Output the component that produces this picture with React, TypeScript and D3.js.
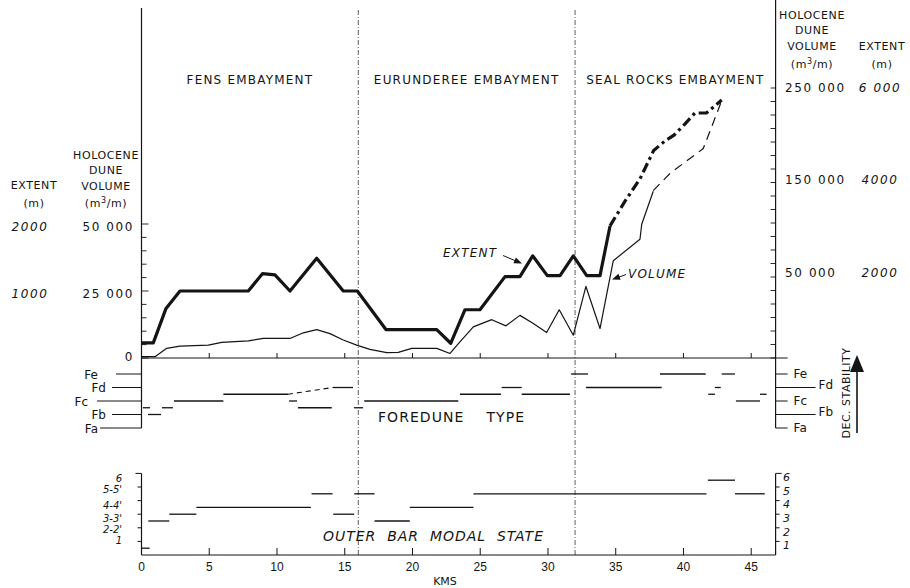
import React from "react";
import * as d3 from "d3";

// ---- distance axis (km along the coast) ----
const kmTicks = [0, 5, 10, 15, 20, 25, 30, 35, 40, 45];
const sectionBreaks = [0, 16, 32, 46.8];
const embayments = ["FENS EMBAYMENT", "EURUNDEREE EMBAYMENT", "SEAL ROCKS EMBAYMENT"];

// ---- dune extent (m), plotted on the left scale ----
const extentLower: [number, number][] = [
  [0, 225], [0.87, 225], [1.81, 740], [2.84, 1000], [7.88, 1000], [8.94, 1260],
  [9.85, 1240], [10.96, 1000], [12.93, 1490], [14.89, 1000], [15.93, 1000],
  [18.04, 425], [21.79, 425], [22.82, 220], [23.87, 720], [24.98, 720],
  [26.83, 1215], [27.93, 1215], [28.87, 1525], [29.95, 1230], [30.89, 1230],
  [31.87, 1525], [32.86, 1230], [33.84, 1230], [34.58, 1970],
];
// ---- dune extent (m), plotted on the right scale ----
const extentUpper: [number, number][] = [
  [34.58, 3020], [35.7, 3560], [36.8, 4040], [37.8, 4650], [38.7, 4870],
  [39.3, 4980], [40.1, 5220], [40.85, 5460], [41.7, 5460], [42.82, 5740],
];

// ---- Holocene dune volume (m3/m), left scale ----
const volumeLower: [number, number][] = [
  [0, 500], [1.0, 500], [1.86, 3600], [2.84, 4400], [4.93, 4800], [5.92, 5800],
  [7.88, 6400], [8.99, 7300], [10.96, 7300], [11.94, 9400], [12.93, 10600],
  [13.91, 9100], [14.89, 6700], [15.88, 4800], [16.86, 3200], [18.1, 2000],
  [18.95, 2100], [19.94, 3600], [21.79, 3600], [22.77, 1700], [23.5, 6000],
  [24.49, 11600], [25.85, 14300], [26.9, 12000], [27.93, 15900], [28.92, 12900],
  [29.9, 9500], [30.83, 18000], [31.87, 8500], [32.8, 26700], [33.84, 11000],
  [34.82, 36300], [36.79, 44300], [36.92, 49900], [37.77, 62200],
];
// ---- Holocene dune volume (m3/m), right scale ----
const volumeUpper: [number, number][] = [
  [37.77, 139100], [39.0, 157600], [39.99, 168500], [41.46, 184500],
  [42.08, 208000], [42.82, 236200],
];

// ---- foredune type: [from km, to km, class 1=Fa .. 5=Fe] ----
const foreduneClasses = ["Fa", "Fb", "Fc", "Fd", "Fe"];
const foreduneRuns: [number, number, number][] = [
  [0.1, 0.63, 2.5], [0.48, 1.44, 2], [1.51, 2.32, 2.5], [2.4, 6.04, 3],
  [6.04, 10.81, 3.5], [14.13, 15.61, 4], [10.89, 11.48, 3], [11.55, 14.04, 2.5],
  [15.68, 16.35, 2.5], [16.44, 23.38, 3], [23.5, 26.53, 3.5], [26.58, 28.06, 4],
  [28.06, 31.62, 3.5], [31.7, 32.95, 5], [32.8, 38.39, 4], [38.27, 41.64, 5],
  [41.83, 42.32, 3.5], [42.32, 42.75, 4], [42.82, 43.8, 5], [43.87, 45.65, 3],
  [45.65, 46.14, 3.5],
];
// inferred transition (dashed)
const foreduneInferred: [number, number][] = [[10.81, 3.5], [14.13, 4]];

// ---- outer bar modal state: [from km, to km, state position] ----
const barStateLabels = ["1", "2-2'", "3-3'", "4-4'", "5-5'", "6"];
const barStateRightLabels = ["1", "2", "3", "4", "5", "6"];
const barRuns: [number, number, number][] = [
  [0, 0.6, 0.5], [0.5, 2.05, 2.5], [2.05, 4.05, 3], [4.05, 12.5, 3.5],
  [12.55, 14.1, 4.5], [14.15, 15.7, 3], [15.7, 17.2, 4.5], [17.2, 19.8, 2.5],
  [19.8, 24.5, 3.5], [24.5, 41.7, 4.5], [41.8, 43.8, 5.5], [43.8, 46.0, 4.5],
];

const INK = "#141414";
const FONT = "'DejaVu Sans', 'Liberation Sans', sans-serif";

export default function App() {
  const x = d3.scaleLinear().domain([0, 46.8]).range([141.5, 775.6]);
  const yVolL = d3.scaleLinear().domain([0, 50000]).range([358, 224]);
  const yExtL = d3.scaleLinear().domain([0, 2000]).range([358, 224]);
  const yVolR = d3.scaleLinear().domain([50000, 250000]).range([273, 88]);
  const yExtR = d3.scaleLinear().domain([2000, 6000]).range([273, 88]);
  const yGrid = d3.scaleLinear().domain([0, 100000]).range([358, 88]);
  const yFore = d3.scaleLinear().domain([1, 5]).range([428, 374]);
  const yBar = d3.scaleLinear().domain([0, 6]).range([555, 473.4]);

  const xL = x(0);
  const xR = x(46.8);

  const lineOn = (ys: d3.ScaleLinear<number, number>) =>
    d3.line<[number, number]>().x((d) => x(d[0])).y((d) => ys(d[1]));

  const arrowHead = (x1: number, y1: number, x2: number, y2: number, len = 8, half = 3.2) => {
    const a = Math.atan2(y2 - y1, x2 - x1);
    const bx = x2 - len * Math.cos(a);
    const by = y2 - len * Math.sin(a);
    const px = -Math.sin(a) * half;
    const py = Math.cos(a) * half;
    return `M${x2},${y2}L${bx + px},${by + py}L${bx - px},${by - py}Z`;
  };

  const leftMinor = yVolL.ticks(10);
  const rightMinor = yGrid.ticks(20);

  return (
    <svg
      width={910}
      height={588}
      viewBox="0 0 910 588"
      style={{ position: "absolute", left: 0, top: 0, background: "#fff" }}
      fontFamily={FONT}
    >
      <rect x={0} y={0} width={910} height={588} fill="#fff" />

      {/* section dividers */}
      {[16, 32].map((k) => (
        <line key={k} x1={x(k)} x2={x(k)} y1={10} y2={555} stroke="#333" strokeWidth={0.8} strokeDasharray="5 2 1 2" />
      ))}

      {/* embayment names */}
      {embayments.map((name, i) => (
        <text
          key={name}
          x={(x(sectionBreaks[i]) + x(sectionBreaks[i + 1])) / 2}
          y={80}
          textAnchor="middle"
          dominantBaseline="middle"
          fontSize={12}
          letterSpacing={1.2}
          fill={INK}
        >
          {name}
        </text>
      ))}

      {/* ===== top panel: axes ===== */}
      <line x1={xL} x2={xL} y1={8} y2={428} stroke={INK} strokeWidth={1.2} />
      <line x1={xR} x2={xR} y1={0} y2={428} stroke={INK} strokeWidth={1.2} />
      <line x1={xL} x2={xR + 12} y1={yVolL(0)} y2={yVolL(0)} stroke={INK} strokeWidth={1} />
      {kmTicks.map((k) => (
        <line key={k} x1={x(k)} x2={x(k)} y1={yVolL(0)} y2={yVolL(0) - 5} stroke={INK} strokeWidth={1} />
      ))}
      {leftMinor.map((v) => (
        <line key={v} x1={xL} x2={xL + (v % 25000 === 0 ? 7 : 5)} y1={yVolL(v)} y2={yVolL(v)} stroke={INK} strokeWidth={0.9} />
      ))}
      {rightMinor.map((v) => (
        <line key={v} x1={xR} x2={xR - 5} y1={yGrid(v)} y2={yGrid(v)} stroke={INK} strokeWidth={0.9} />
      ))}

      {/* left axis headings */}
      <g fontSize={11} fill={INK} textAnchor="middle" letterSpacing={0.6}>
        <text x={106} y={159}>HOLOCENE</text>
        <text x={106} y={174}>DUNE</text>
        <text x={106} y={190}>VOLUME</text>
        <text x={106} y={207}>
          (m<tspan dy={-4} fontSize={8}>3</tspan>
          <tspan dy={4}>/m)</tspan>
        </text>
        <text x={34} y={189}>EXTENT</text>
        <text x={34} y={207}>(m)</text>
      </g>
      <g fontSize={12} fill={INK} letterSpacing={1.6} dominantBaseline="middle">
        {[50000, 25000, 0].map((v) => (
          <text key={v} x={134} y={yVolL(v) + (v === 0 ? -1 : 3)} textAnchor="end">
            {v === 0 ? "0" : d3.format(",")(v).replace(",", " ")}
          </text>
        ))}
        {[2000, 1000].map((v) => (
          <text key={v} x={30} y={yExtL(v) + 3} textAnchor="middle" fontStyle="italic">
            {String(v)}
          </text>
        ))}
      </g>

      {/* right axis headings */}
      <g fontSize={11} fill={INK} textAnchor="middle" letterSpacing={0.6}>
        <text x={812} y={19}>HOLOCENE</text>
        <text x={812} y={34}>DUNE</text>
        <text x={812} y={50}>VOLUME</text>
        <text x={812} y={68}>
          (m<tspan dy={-4} fontSize={8}>3</tspan>
          <tspan dy={4}>/m)</tspan>
        </text>
        <text x={882} y={50}>EXTENT</text>
        <text x={882} y={68}>(m)</text>
      </g>
      <g fontSize={12} fill={INK} letterSpacing={1.6} dominantBaseline="middle">
        {[250000, 150000, 50000].map((v) => (
          <text key={v} x={785} y={yVolR(v)} textAnchor="start">
            {d3.format(",")(v).replace(",", " ")}
          </text>
        ))}
        {[6000, 4000, 2000].map((v) => (
          <text key={v} x={880} y={yExtR(v)} textAnchor="middle" fontStyle="italic">
            {v === 6000 ? "6 000" : String(v)}
          </text>
        ))}
      </g>

      {/* ===== top panel: series ===== */}
      <path d={lineOn(yVolL)(volumeLower)!} fill="none" stroke={INK} strokeWidth={1.2} strokeLinejoin="round" />
      <path d={lineOn(yVolR)(volumeUpper)!} fill="none" stroke={INK} strokeWidth={1.2} strokeDasharray="9 6" />
      <path d={lineOn(yExtL)(extentLower)!} fill="none" stroke={INK} strokeWidth={3.2} strokeLinejoin="round" />
      <path d={lineOn(yExtR)(extentUpper)!} fill="none" stroke={INK} strokeWidth={3.2} strokeDasharray="10 4 3 4" />

      {/* series annotations */}
      <g fontSize={12} fontStyle="italic" fill={INK} letterSpacing={1.2} dominantBaseline="middle">
        <text x={443} y={253}>EXTENT</text>
        <text x={628} y={274}>VOLUME</text>
      </g>
      <line x1={503} y1={255.5} x2={516} y2={261} stroke={INK} strokeWidth={1} />
      <path d={arrowHead(503, 255.5, 522, 263.5)} fill={INK} />
      <line x1={626} y1={274.5} x2={618} y2={277.5} stroke={INK} strokeWidth={1} />
      <path d={arrowHead(626, 274.5, 612, 279.5)} fill={INK} />

      {/* ===== foredune type panel ===== */}
      {foreduneClasses.map((c, i) => {
        const lvl = i + 1;
        const y = yFore(lvl);
        // staggered label layout on each side
        const leftLabelX = [98, 106, 88, 106, 98][i];
        const leftLineStart = [100, 112, 97, 112, 116][i];
        const rightLong = i === 1 || i === 3;
        return (
          <g key={c}>
            <line x1={leftLineStart} x2={xL} y1={y} y2={y} stroke={INK} strokeWidth={1} />
            <text x={leftLabelX} y={y + 1} textAnchor="end" dominantBaseline="middle" fontSize={12} fill={INK}>
              {c}
            </text>
            <line x1={xR} x2={rightLong ? xR + 40 : xR + 12} y1={y} y2={y} stroke={INK} strokeWidth={1} />
            <text
              x={rightLong ? xR + 43 : xR + 18}
              y={rightLong ? y - 2 : y}
              dominantBaseline="middle"
              fontSize={12}
              fill={INK}
            >
              {c}
            </text>
          </g>
        );
      })}
      {foreduneRuns.map(([a, b, l], i) => (
        <line key={i} x1={x(a)} x2={x(b)} y1={yFore(l)} y2={yFore(l)} stroke={INK} strokeWidth={1.3} />
      ))}
      <line
        x1={x(foreduneInferred[0][0])}
        y1={yFore(foreduneInferred[0][1])}
        x2={x(foreduneInferred[1][0])}
        y2={yFore(foreduneInferred[1][1])}
        stroke={INK}
        strokeWidth={1.1}
        strokeDasharray="5 4"
      />
      <text x={378} y={418} dominantBaseline="middle" fontSize={14} fill={INK} textLength={146} lengthAdjust="spacing" style={{ whiteSpace: "pre" }}>
        FOREDUNE    TYPE
      </text>

      {/* stability arrow */}
      <text
        transform="translate(847,393) rotate(-90)"
        textAnchor="middle"
        dominantBaseline="middle"
        fontSize={11}
        fill={INK}
        letterSpacing={0.5}
      >
        DEC. STABILITY
      </text>
      <line x1={857} x2={857} y1={433} y2={370} stroke={INK} strokeWidth={1.6} />
      <path d="M850,372 L864,372 L857,355 Z" fill={INK} />

      {/* ===== outer bar modal state panel ===== */}
      <line x1={xL} x2={xL} y1={yBar(6)} y2={yBar(0)} stroke={INK} strokeWidth={1.2} />
      <line x1={xR} x2={xR} y1={yBar(6)} y2={yBar(0)} stroke={INK} strokeWidth={1.2} />
      <line x1={xL} x2={xR} y1={yBar(0)} y2={yBar(0)} stroke={INK} strokeWidth={1} />
      {d3.range(1, 7).map((s) => (
        <g key={s}>
          <line x1={xL - (s === 6 ? 6 : 4)} x2={xL} y1={yBar(s)} y2={yBar(s)} stroke={INK} strokeWidth={1} />
          <line x1={xR} x2={xR + (s === 6 ? 6 : 4)} y1={yBar(s)} y2={yBar(s)} stroke={INK} strokeWidth={1} />
        </g>
      ))}
      {barStateLabels.map((t, i) => {
        // crowded hand lettering: labels sit a little above their state line
        const nudge = [-7, -4.6, -2, -1, -3.8, -1][i];
        return (
          <text
            key={t}
            x={122}
            y={yBar(i + 0.5) + nudge}
            textAnchor="end"
            dominantBaseline="middle"
            fontSize={10}
            fontStyle="italic"
            fill={INK}
          >
            {t}
          </text>
        );
      })}
      {barStateRightLabels.map((t, i) => (
        <text
          key={t}
          x={783}
          y={yBar(i + 0.5) - 2}
          dominantBaseline="middle"
          fontSize={11}
          fontStyle="italic"
          fill={INK}
        >
          {t}
        </text>
      ))}
      {barRuns.map(([a, b, s], i) => (
        <line key={i} x1={x(a)} x2={x(b)} y1={yBar(s)} y2={yBar(s)} stroke={INK} strokeWidth={1.3} />
      ))}
      <text x={323} y={537} dominantBaseline="middle" fontSize={14} fontStyle="italic" fill={INK} textLength={220} lengthAdjust="spacing" style={{ whiteSpace: "pre" }}>
        OUTER  BAR  MODAL  STATE
      </text>

      {/* km axis */}
      {kmTicks.map((k) => (
        <g key={k}>
          <line x1={x(k)} x2={x(k)} y1={yBar(0)} y2={yBar(0) - 7} stroke={INK} strokeWidth={1} />
          <text x={x(k)} y={568} textAnchor="middle" dominantBaseline="middle" fontSize={12} fill={INK} fontFamily="'Liberation Sans', sans-serif">
            {k}
          </text>
        </g>
      ))}
      <text x={445} y={582} textAnchor="middle" dominantBaseline="middle" fontSize={11} fill={INK}>
        KMS
      </text>
    </svg>
  );
}
